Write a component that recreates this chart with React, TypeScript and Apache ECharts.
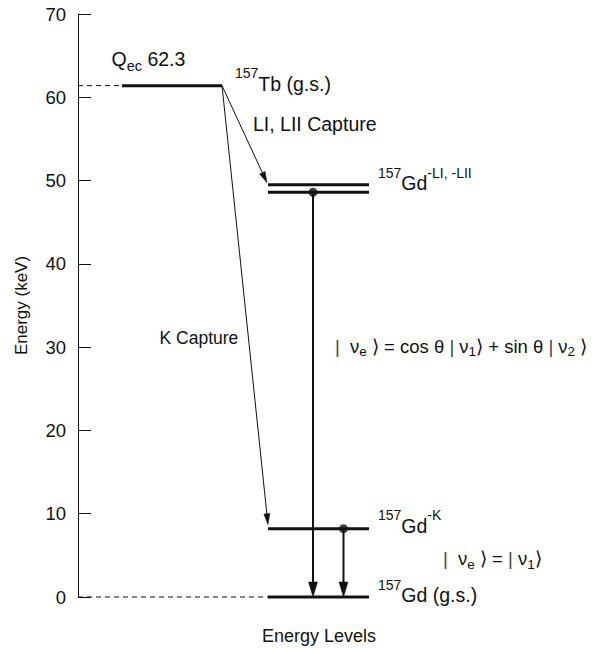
import React, { useEffect, useRef } from 'react';
import * as echarts from 'echarts';

// ---- data ----
const levelKeys = ['Tb', 'GdL1', 'GdL2', 'GdK', 'Gd'];
const levelEnergies = [61.4, 49.5, 48.6, 8.2, 0]; // keV
const qValueLabel = '62.3';
const yMin = 0;
const yMax = 70;
const yStep = 10;
// transitions (indices into levels)
const captureFrom = [0, 0];
const captureTo = [1, 3];
const neutrinoFrom = [2, 3];
const neutrinoTo = [4, 4];

// ---- layout (x in axis units, 50 px per unit) ----
const FONT = 'Liberation Sans, Arial, Helvetica, sans-serif';
const INK = '#111';
const levelSpan: Record<string, [number, number]> = {
  Tb: [0.88, 2.88],
  GdL1: [3.8, 5.82],
  GdL2: [3.8, 5.82],
  GdK: [3.8, 5.82],
  Gd: [3.8, 5.82],
};
const neutrinoX = [4.7, 5.31];
const captureTipOffset = [[-1, -2], [0, -4]];

const MAIN = 19.5;
const EQ = 18.5;
const rich = {
  m: { fontSize: MAIN, fontFamily: FONT, fill: INK, color: INK },
  k: { fontSize: 17.5, fontFamily: FONT, fill: INK, color: INK },
  q: { fontSize: EQ, fontFamily: FONT, fill: INK, color: INK },
  sup: { fontSize: 14, fontFamily: FONT, fill: INK, color: INK, padding: [0, 0, 21, 0] },
  sub: { fontSize: 14.5, fontFamily: FONT, fill: INK, color: INK, padding: [14, 0, 0, 0] },
  esub: { fontSize: 13.5, fontFamily: FONT, fill: INK, color: INK, padding: [11, 0, 0, 0] },
  bar: { fontSize: EQ, fontFamily: FONT, fill: '#444', color: '#444' },
};

type Lbl = { text: string; x: number; level?: number; y?: number; dy: number };
const labels: Lbl[] = [
  { text: '{m|Q}{sub|ec}{m| ' + qValueLabel + '}', x: 0.67, level: 0, dy: -27 },
  { text: '{sup|157}{m|Tb (g.s.)}', x: 3.14, level: 0, dy: -2 },
  { text: '{m|LI, LII Capture}', x: 3.5, level: 0, dy: 38.5 },
  { text: '{sup|157}{m|Gd}{sup|-LI, -LII}', x: 6.0, level: 1, dy: -1.5 },
  { text: '{k|K Capture}', x: 1.63, y: 31.1, dy: 0 },
  { text: '{bar||}{q|  ν}{esub|e}{q| ⟩ = cos θ }{bar||}{q| ν}{esub|1}{q|⟩ + sin θ }{bar||}{q| ν}{esub|2}{q| ⟩}', x: 5.14, y: 30.1, dy: 0 },
  { text: '{sup|157}{m|Gd}{sup|-K}', x: 6.0, level: 3, dy: -3 },
  { text: '{bar||}{q|  ν}{esub|e}{q| ⟩ = }{bar||}{q| ν}{esub|1}{q|⟩}', x: 7.3, level: 3, dy: 30 },
  { text: '{sup|157}{m|Gd (g.s.)}', x: 6.0, level: 4, dy: -2 },
];

function buildOption() {
  const levelData = levelKeys.map((k, i) => [levelSpan[k][0], levelSpan[k][1], levelEnergies[i]]);
  const dashData = [
    [0, levelSpan.Tb[0], levelEnergies[0]],
    [0, levelSpan.Gd[0], levelEnergies[4]],
  ];
  const captureData = captureFrom.map((f, i) => [
    levelSpan[levelKeys[f]][1], levelEnergies[f],
    levelSpan[levelKeys[captureTo[i]]][0], levelEnergies[captureTo[i]], i,
  ]);
  const neutrinoData = neutrinoFrom.map((f, i) => [
    neutrinoX[i], levelEnergies[f], neutrinoX[i], levelEnergies[neutrinoTo[i]], i,
  ]);
  const dotData = neutrinoFrom.map((f, i) => [neutrinoX[i], levelEnergies[f]]);
  const labelData = labels.map((l, i) => [l.x, l.level !== undefined ? levelEnergies[l.level] : (l.y as number), i]);

  const arrow = (a: number[], b: number[], lw: number, hl: number, hw: number) => {
    const ang = Math.atan2(b[1] - a[1], b[0] - a[0]);
    const c = Math.cos(ang), s = Math.sin(ang);
    const bx = b[0] - hl * c, by = b[1] - hl * s;
    return {
      type: 'group',
      children: [
        { type: 'line', shape: { x1: a[0], y1: a[1], x2: bx + 2 * c, y2: by + 2 * s }, style: { stroke: INK, lineWidth: lw } },
        { type: 'polygon', shape: { points: [[b[0], b[1]], [bx - hw * s, by + hw * c], [bx + hw * s, by - hw * c]] }, style: { fill: INK, stroke: INK, lineWidth: 0.5 } },
      ],
    };
  };

  return {
    animation: false,
    backgroundColor: '#ffffff',
    grid: { left: 78, right: 16, top: 14, bottom: 52 },
    xAxis: { type: 'value', min: 0, max: 10, show: false },
    yAxis: {
      type: 'value', min: yMin, max: yMax, interval: yStep,
      name: 'Energy (keV)', nameLocation: 'middle', nameGap: 48,
      nameTextStyle: { fontFamily: FONT, fontSize: 17, color: INK },
      axisLine: { show: true, lineStyle: { color: INK, width: 1 } },
      axisTick: { show: true, inside: true, length: 13, lineStyle: { color: INK, width: 1 } },
      axisLabel: { fontFamily: FONT, fontSize: 18.5, color: INK, margin: 12 },
      splitLine: { show: false },
    },
    graphic: [
      { type: 'text', left: 262, top: 627, style: { text: 'Energy Levels', fontFamily: FONT, fontSize: 18, fill: INK } },
    ],
    series: [
      {
        type: 'custom', coordinateSystem: 'cartesian2d', clip: false, silent: true,
        data: dashData,
        renderItem: (params: any, api: any) => {
          const p1 = api.coord([api.value(0), api.value(2)]);
          const p2 = api.coord([api.value(1), api.value(2)]);
          return { type: 'line', shape: { x1: p1[0], y1: p1[1], x2: p2[0], y2: p2[1] }, style: { stroke: INK, lineWidth: 1, lineDash: [5, 4] } };
        },
      },
      {
        type: 'custom', coordinateSystem: 'cartesian2d', clip: false, silent: true,
        data: levelData,
        renderItem: (params: any, api: any) => {
          const p1 = api.coord([api.value(0), api.value(2)]);
          const p2 = api.coord([api.value(1), api.value(2)]);
          return { type: 'line', shape: { x1: p1[0], y1: p1[1], x2: p2[0], y2: p2[1] }, style: { stroke: INK, lineWidth: 3 } };
        },
      },
      {
        type: 'custom', coordinateSystem: 'cartesian2d', clip: false, silent: true,
        data: captureData,
        renderItem: (params: any, api: any) => {
          const a = api.coord([api.value(0), api.value(1)]);
          const b = api.coord([api.value(2), api.value(3)]);
          const off = captureTipOffset[api.value(4)];
          b[0] += off[0]; b[1] += off[1];
          return arrow(a, b, 1, 11, 3);
        },
      },
      {
        type: 'custom', coordinateSystem: 'cartesian2d', clip: false, silent: true,
        data: neutrinoData,
        renderItem: (params: any, api: any) => {
          const a = api.coord([api.value(0), api.value(1)]);
          const b = api.coord([api.value(2), api.value(3)]);
          return arrow(a, b, 2, 15, 4.5);
        },
      },
      {
        type: 'scatter', silent: true, symbol: 'circle', symbolSize: 9,
        itemStyle: { color: INK }, data: dotData, z: 5,
      },
      {
        type: 'custom', coordinateSystem: 'cartesian2d', clip: false, silent: true,
        data: labelData,
        renderItem: (params: any, api: any) => {
          const p = api.coord([api.value(0), api.value(1)]);
          const l = labels[api.value(2)];
          return {
            type: 'text', x: p[0], y: p[1] + l.dy,
            style: {
              text: l.text, rich, fill: INK, fontFamily: FONT, fontSize: MAIN,
              align: 'left', verticalAlign: 'middle', textAlign: 'left', textVerticalAlign: 'middle',
            },
          };
        },
      },
    ],
  };
}

export default function App() {
  const ref = useRef<HTMLDivElement>(null);
  useEffect(() => {
    if (!ref.current) return;
    const chart = echarts.init(ref.current, null, { renderer: 'svg' });
    chart.setOption(buildOption() as any);
    return () => chart.dispose();
  }, []);
  return <div ref={ref} style={{ width: 594, height: 649, position: 'absolute', left: 0, top: 0 }} />;
}
